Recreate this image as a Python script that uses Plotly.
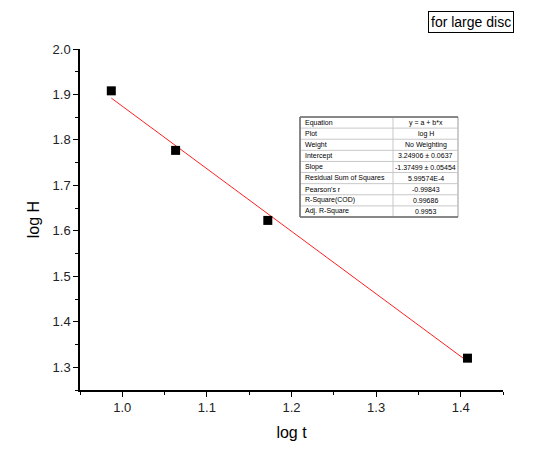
import plotly.graph_objects as go

log_t = [0.987, 1.063, 1.172, 1.408]
log_h = [1.908, 1.777, 1.623, 1.320]

fit_x = [0.987, 1.408]
fit_y = [1.892, 1.313]

table_labels = ["Equation", "Plot", "Weight", "Intercept", "Slope",
                "Residual Sum of Squares", "Pearson's r", "R-Square(COD)", "Adj. R-Square"]
table_values = ["y = a + b*x", "log H", "No Weighting", "3.24906 ± 0.0637",
                "-1.37499 ± 0.05454", "5.99574E-4", "-0.99843", "0.99686", "0.9953"]

x_ticks = [1.0, 1.1, 1.2, 1.3, 1.4]
y_ticks = [1.3, 1.4, 1.5, 1.6, 1.7, 1.8, 1.9, 2.0]

fig = go.Figure()

fig.add_trace(go.Scatter(x=fit_x, y=fit_y, mode="lines",
                         line=dict(color="#ff2020", width=1), showlegend=False))
fig.add_trace(go.Scatter(x=log_t, y=log_h, mode="markers",
                         marker=dict(symbol="square", size=9, color="black"),
                         showlegend=False))

L, R, T, B = 80, 57, 49, 67
W, H = 560, 457
pw, ph = W - L - R, H - T - B

def px_x(px):
    return (px - L) / pw

def px_y(py):
    return 1 - (py - T) / ph

# results table (drawn with shapes + text)
tx0, tdiv, tx1, ty0, ty1 = 300, 393, 458, 117, 217
n = len(table_labels)
rh = (ty1 - ty0) / n
fig.add_shape(type="rect", xref="paper", yref="paper",
              x0=px_x(tx0), x1=px_x(tx1), y0=px_y(ty1), y1=px_y(ty0),
              line=dict(color="#9a9a9a", width=1), fillcolor="white", layer="above")
for i in range(1, n):
    yy = px_y(ty0 + i * rh)
    fig.add_shape(type="line", xref="paper", yref="paper",
                  x0=px_x(tx0), x1=px_x(tx1), y0=yy, y1=yy,
                  line=dict(color="#c8c8c8", width=1), layer="above")
fig.add_shape(type="line", xref="paper", yref="paper",
              x0=px_x(tdiv), x1=px_x(tdiv), y0=px_y(ty1), y1=px_y(ty0),
              line=dict(color="#c8c8c8", width=1), layer="above")
for (xa, ya, xb, yb) in [(tx0, ty0, tx1, ty0), (tx0, ty1, tx1, ty1), (tx0, ty0, tx0, ty1)]:
    fig.add_shape(type="line", xref="paper", yref="paper",
                  x0=px_x(xa), x1=px_x(xb), y0=px_y(ya), y1=px_y(yb),
                  line=dict(color="#707070", width=1.5), layer="above")

for i, (lab, val) in enumerate(zip(table_labels, table_values)):
    yc = px_y(ty0 + (i + 0.5) * rh)
    fig.add_annotation(text=lab, xref="paper", yref="paper", x=px_x(tx0 + 3), y=yc,
                       xanchor="left", yanchor="middle", showarrow=False,
                       font=dict(family="Arial", size=7, color="black"))
    fig.add_annotation(text=val, xref="paper", yref="paper", x=px_x((tdiv + tx1) / 2), y=yc,
                       xanchor="center", yanchor="middle", showarrow=False,
                       font=dict(family="Arial", size=7, color="black"))

fig.add_annotation(text="for large disc", xref="paper", yref="paper",
                   x=px_x(471), y=px_y(22), xanchor="center", yanchor="middle",
                   showarrow=False, font=dict(family="Arial", size=14, color="black"),
                   bordercolor="black", borderwidth=1, borderpad=2, bgcolor="white")

axis_common = dict(showgrid=False, zeroline=False, showline=True, linecolor="black",
                   linewidth=1.5, ticks="outside", ticklen=5, tickwidth=1.2,
                   tickcolor="black",
                   tickfont=dict(family="Arial", size=13, color="#222222"))
minor_common = dict(ticks="outside", ticklen=3, tickwidth=1.2, tickcolor="black", showgrid=False)

fig.update_layout(
    width=W, height=H,
    margin=dict(l=L, r=R, t=T, b=B),
    paper_bgcolor="white", plot_bgcolor="white",
    xaxis=dict(range=[0.95, 1.45], tickvals=x_ticks, ticktext=[f"{v:.1f}" for v in x_ticks],
               title=dict(text="log t", font=dict(family="Arial", size=16, color="black"),
                          standoff=12),
               minor=dict(minor_common, dtick=0.05, tick0=0.95), **axis_common),
    yaxis=dict(range=[1.25, 2.0], tickvals=y_ticks, ticktext=[f"{v:.1f}" for v in y_ticks],
               title=dict(text="log H", font=dict(family="Arial", size=16, color="black"),
                          standoff=9),
               minor=dict(minor_common, dtick=0.05, tick0=1.25), **axis_common),
)

fig.write_html("out.html")
